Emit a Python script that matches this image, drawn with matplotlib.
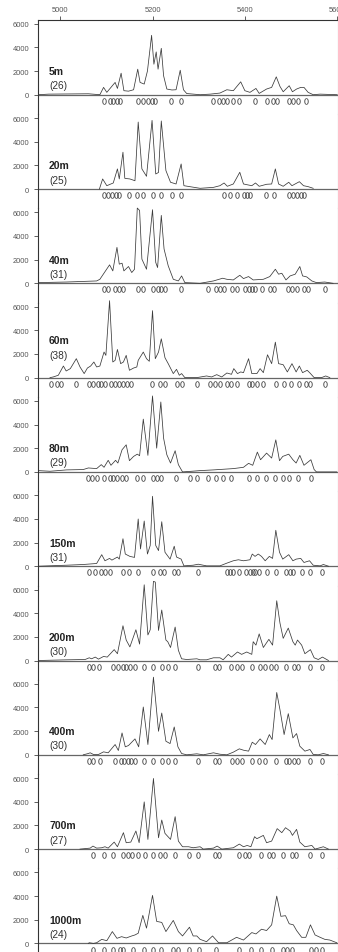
import matplotlib.pyplot as plt

plt.rcParams['font.family'] = ['Liberation Sans', 'DejaVu Sans']

depths = ['5m', '20m', '40m', '60m', '80m', '150m', '200m', '400m', '700m', '1000m']
counts = [26, 25, 31, 38, 29, 31, 30, 30, 27, 24]

# 5m
x_5 = [4953, 4975, 5061, 5086, 5094, 5101, 5119, 5124, 5132, 5138, 5148, 5159, 5168, 5173, 5182, 5189,
       5198, 5203, 5208, 5212, 5219, 5224, 5231, 5242, 5251, 5260, 5267, 5274, 5303, 5325, 5346, 5361,
       5375, 5391, 5400, 5411, 5424, 5431, 5447, 5458, 5468, 5476, 5483, 5496, 5503, 5512, 5521, 5528,
       5537, 5548, 5563, 5600]
y_5 = [0, 50, 80, 0, 620, 200, 1040, 530, 1820, 340, 300, 420, 2160, 1040, 900, 2000,
       5020, 2580, 3620, 2160, 3920, 1600, 480, 400, 420, 2070, 420, 100, 0, 50, 140, 420,
       340, 1090, 340, 200, 530, 110, 480, 620, 1510, 700, 250, 760, 250, 480, 620, 620,
       200, 0, 50, 0]
pk_5 = [5096, 5108, 5115, 5123, 5130, 5169, 5179, 5190, 5198, 5206, 5239, 5261, 5330, 5343, 5352,
        5361, 5375, 5388, 5423, 5447, 5460, 5469, 5496, 5505, 5514, 5532]

# 20m
x_20 = [5085, 5092, 5101, 5115, 5124, 5128, 5136, 5140, 5151, 5162, 5169, 5177, 5187, 5199, 5207,
        5213, 5219, 5229, 5239, 5251, 5262, 5268, 5303, 5332, 5346, 5355, 5362, 5375, 5389, 5397,
        5415, 5423, 5431, 5447, 5458, 5466, 5473, 5483, 5495, 5502, 5518, 5527, 5537, 5548]
y_20 = [0, 850, 280, 510, 1700, 850, 3110, 900, 850, 700, 5660, 1700, 1075, 5800, 1270,
        1400, 5750, 1560, 570, 425, 2120, 280, 60, 140, 280, 510, 230, 425, 1415, 425,
        280, 510, 230, 400, 425, 1700, 425, 230, 570, 280, 620, 280, 200, 60]
pk_20 = [5096, 5104, 5112, 5120, 5128, 5148, 5167, 5179, 5200, 5218, 5242, 5262, 5355, 5368, 5382,
         5399, 5405, 5412, 5445, 5464, 5495, 5504, 5512, 5521, 5529]

# 40m
x_40 = [4953, 5014, 5079, 5086, 5107, 5114, 5123, 5128, 5134, 5138, 5148, 5155, 5161, 5167, 5172,
        5177, 5187, 5200, 5207, 5211, 5219, 5225, 5234, 5245, 5256, 5263, 5270, 5303, 5332, 5352,
        5361, 5375, 5389, 5397, 5408, 5418, 5440, 5454, 5466, 5473, 5480, 5489, 5498, 5509, 5519,
        5525, 5534, 5545, 5555, 5573, 5591]
y_40 = [60, 110, 200, 340, 1560, 1050, 3040, 1620, 1700, 1050, 1420, 910, 1190, 6360, 6160,
        2045, 1190, 6220, 1760, 1330, 5740, 2900, 1480, 340, 200, 625, 60, 0, 200, 430,
        340, 285, 680, 400, 570, 285, 340, 570, 1190, 770, 850, 285, 625, 770, 1420,
        625, 540, 200, 60, 110, 0]
pk_40 = [5096, 5104, 5119, 5128, 5137, 5168, 5179, 5200, 5211, 5218, 5227, 5262, 5321, 5338, 5346,
         5355, 5373, 5382, 5400, 5408, 5415, 5422, 5438, 5454, 5463, 5494, 5503, 5512, 5528, 5537, 5573]

# 60m
x_60 = [4978, 4985, 4996, 5007, 5013, 5022, 5035, 5043, 5052, 5059, 5066, 5073, 5079, 5086, 5095,
        5099, 5107, 5114, 5119, 5124, 5131, 5137, 5143, 5150, 5159, 5166, 5169, 5180, 5187, 5193,
        5200, 5206, 5213, 5219, 5227, 5234, 5245, 5252, 5258, 5263, 5270, 5296, 5317, 5328, 5339,
        5350, 5361, 5371, 5376, 5384, 5391, 5397, 5408, 5415, 5426, 5433, 5440, 5449, 5458, 5466,
        5473, 5483, 5492, 5502, 5511, 5518, 5525, 5535, 5541, 5550, 5566, 5575, 5584]
y_60 = [0, 56, 200, 980, 560, 760, 1600, 900, 340, 810, 980, 1320, 900, 980, 2160,
        1880, 6500, 1320, 1460, 2380, 1180, 1320, 1880, 620, 810, 900, 1460, 2160, 1600, 1380,
        5660, 1600, 2160, 3280, 1680, 1180, 340, 700, 200, 340, 0, 0, 140, 56, 250,
        56, 390, 280, 760, 340, 480, 420, 1600, 340, 340, 760, 420, 1930, 1180, 3000,
        1180, 1090, 480, 1180, 480, 980, 420, 620, 390, 0, 0, 140, 0]
pk_60 = [4980, 4994, 5002, 5035, 5063, 5072, 5081, 5089, 5098, 5110, 5118, 5127, 5136, 5144, 5153,
         5199, 5216, 5226, 5254, 5264, 5297, 5325, 5335, 5346, 5361, 5371, 5382, 5408, 5416, 5426,
         5440, 5467, 5485, 5499, 5518, 5532, 5541, 5573]

# 80m
x_80 = [4953, 4978, 5014, 5050, 5061, 5079, 5089, 5095, 5104, 5110, 5120, 5125, 5134, 5143, 5150,
        5159, 5167, 5172, 5180, 5190, 5200, 5209, 5218, 5224, 5231, 5239, 5249, 5256, 5265, 5285,
        5303, 5332, 5375, 5397, 5408, 5417, 5427, 5434, 5447, 5458, 5467, 5475, 5482, 5495, 5504,
        5511, 5519, 5528, 5543, 5550, 5555, 5599]
y_80 = [110, 56, 170, 200, 335, 280, 615, 390, 980, 560, 980, 750, 1870, 2290, 950,
        1310, 1500, 1370, 4460, 1400, 6420, 2010, 5910, 2850, 1450, 750, 1790, 615, 0, 56,
        110, 170, 280, 390, 725, 560, 1675, 1030, 1590, 1170, 2710, 950, 1310, 1500, 1030,
        750, 1400, 560, 1030, 200, 0, 0]
pk_80 = [5061, 5070, 5079, 5095, 5107, 5115, 5124, 5133, 5143, 5166, 5180, 5200, 5209, 5218, 5250,
         5281, 5296, 5320, 5338, 5353, 5370, 5408, 5426, 5445, 5466, 5482, 5496, 5516, 5543]

# 150m
x_150 = [4953, 5014, 5050, 5079, 5090, 5097, 5107, 5112, 5124, 5128, 5136, 5141, 5151, 5161, 5169,
         5174, 5182, 5189, 5195, 5200, 5207, 5213, 5220, 5227, 5238, 5247, 5252, 5262, 5268, 5288,
         5299, 5317, 5346, 5361, 5375, 5386, 5397, 5411, 5416, 5422, 5429, 5436, 5444, 5453, 5460,
         5467, 5475, 5482, 5495, 5504, 5511, 5521, 5528, 5540, 5548, 5563, 5570, 5581]
y_150 = [0, 85, 145, 230, 975, 460, 660, 515, 775, 600, 2325, 1030, 830, 745, 3990,
         1460, 3820, 1030, 1750, 5910, 1750, 1320, 3760, 1180, 600, 1690, 775, 600, 30, 85,
         170, 30, 30, 260, 460, 545, 460, 545, 1030, 830, 1030, 830, 460, 830, 660,
         3040, 1180, 600, 975, 460, 600, 660, 315, 460, 85, 30, 145, 0]
pk_150 = [5063, 5076, 5088, 5097, 5107, 5137, 5148, 5168, 5200, 5216, 5225, 5247, 5256, 5299, 5361,
          5368, 5375, 5387, 5402, 5411, 5417, 5423, 5430, 5447, 5467, 5490, 5498, 5505, 5523, 5542, 5566]

# 200m
x_200 = [4953, 5014, 5054, 5063, 5068, 5076, 5083, 5094, 5102, 5117, 5124, 5136, 5143, 5151, 5164,
         5172, 5182, 5190, 5195, 5202, 5206, 5213, 5220, 5229, 5233, 5239, 5249, 5256, 5263, 5274,
         5296, 5303, 5317, 5332, 5346, 5353, 5364, 5371, 5384, 5393, 5404, 5415, 5418, 5424, 5431,
         5440, 5452, 5460, 5469, 5476, 5483, 5494, 5504, 5509, 5514, 5523, 5530, 5542, 5550, 5559,
         5568, 5581]
y_200 = [0, 58, 85, 230, 145, 290, 115, 345, 290, 920, 575, 2940, 1730, 1150, 2600,
         1385, 6400, 2160, 2600, 6690, 6630, 2540, 4270, 1730, 1590, 1100, 2830, 865, 145, 85,
         145, 60, 60, 230, 230, 60, 520, 290, 720, 520, 720, 520, 1590, 1300, 2250,
         1100, 1790, 1300, 5050, 3170, 1875, 2740, 1590, 1300, 1730, 1300, 575, 920, 230, 85,
         290, 0]
pk_200 = [5063, 5072, 5084, 5115, 5126, 5135, 5143, 5151, 5162, 5182, 5202, 5220, 5234, 5249, 5299,
          5335, 5344, 5371, 5384, 5393, 5416, 5433, 5444, 5456, 5467, 5488, 5506, 5516, 5542, 5566]

# 400m
x_400 = [5050, 5061, 5065, 5072, 5083, 5094, 5104, 5119, 5126, 5134, 5141, 5148, 5162, 5170, 5180,
         5190, 5202, 5213, 5220, 5229, 5238, 5247, 5255, 5263, 5274, 5296, 5310, 5332, 5346, 5361,
         5375, 5388, 5397, 5408, 5416, 5423, 5433, 5444, 5453, 5459, 5469, 5476, 5485, 5494, 5504,
         5512, 5519, 5530, 5541, 5548, 5559, 5570, 5581]
y_400 = [0, 110, 170, 30, 30, 250, 170, 870, 365, 1850, 675, 785, 1345, 675, 4040,
         870, 6560, 1990, 3535, 1150, 950, 2355, 675, 110, 0, 85, 0, 170, 50, 0,
         225, 505, 390, 310, 1065, 870, 1345, 870, 1710, 1290, 5270, 3815, 1710, 3480, 1430,
         1795, 730, 310, 450, 30, 0, 110, 0]
pk_400 = [5063, 5072, 5086, 5119, 5131, 5138, 5146, 5153, 5162, 5182, 5202, 5220, 5234, 5249, 5299,
          5335, 5344, 5373, 5384, 5393, 5415, 5431, 5444, 5467, 5488, 5495, 5506, 5516, 5542, 5566]

# 700m
x_700 = [5043, 5065, 5071, 5079, 5090, 5097, 5104, 5117, 5124, 5137, 5143, 5153, 5164, 5171, 5182,
         5190, 5202, 5213, 5220, 5227, 5239, 5249, 5256, 5265, 5278, 5288, 5303, 5310, 5332, 5340,
         5350, 5375, 5388, 5397, 5405, 5413, 5421, 5426, 5440, 5447, 5458, 5470, 5480, 5488, 5498,
         5503, 5512, 5519, 5530, 5545, 5552, 5570, 5581]
y_700 = [0, 85, 255, 85, 115, 200, 85, 595, 200, 1390, 540, 595, 1530, 540, 3990,
         820, 5970, 960, 2460, 1330, 820, 2745, 680, 200, 200, 115, 200, 0, 85, 255,
         0, 115, 425, 200, 310, 200, 1050, 880, 1160, 540, 680, 1730, 1390, 1810, 1530,
         1160, 1670, 595, 200, 310, 0, 200, 0]
pk_700 = [5072, 5095, 5115, 5136, 5146, 5155, 5168, 5184, 5200, 5216, 5226, 5249, 5278, 5299, 5335,
          5344, 5388, 5400, 5410, 5436, 5453, 5462, 5483, 5501, 5511, 5542, 5566]

# 1000m
x_1000 = [5061, 5063, 5072, 5079, 5090, 5101, 5113, 5123, 5133, 5143, 5155, 5162, 5169, 5179, 5187,
          5200, 5209, 5220, 5229, 5245, 5256, 5265, 5280, 5288, 5296, 5303, 5317, 5330, 5343, 5361,
          5382, 5397, 5415, 5424, 5436, 5447, 5458, 5469, 5478, 5488, 5496, 5505, 5512, 5523, 5532,
          5542, 5552, 5563, 5573, 5584, 5599]
y_1000 = [0, 57, 0, 57, 345, 230, 1000, 430, 570, 460, 630, 715, 860, 2370, 1290,
          4060, 1860, 1775, 1000, 1945, 1000, 630, 1370, 630, 630, 345, 145, 630, 57, 57,
          515, 285, 915, 800, 1200, 1090, 1570, 4000, 2290, 2345, 1660, 1570, 1090, 515, 515,
          1570, 715, 515, 345, 285, 57]
pk_1000 = [5072, 5095, 5115, 5130, 5136, 5157, 5182, 5200, 5218, 5245, 5256, 5279, 5301, 5338, 5388,
           5413, 5436, 5458, 5483, 5492, 5501, 5543, 5555, 5568]

curves = [(x_5, y_5, pk_5), (x_20, y_20, pk_20), (x_40, y_40, pk_40), (x_60, y_60, pk_60),
          (x_80, y_80, pk_80), (x_150, y_150, pk_150), (x_200, y_200, pk_200),
          (x_400, y_400, pk_400), (x_700, y_700, pk_700), (x_1000, y_1000, pk_1000)]

# label heights (data units) in each panel
name_y = [2000, 2000, 2000, 3200, 2000, 2000, 2000, 2000, 2000, 2000]
count_y = [800, 800, 800, 1950, 800, 800, 800, 800, 800, 800]

W, H = 338, 953
fig = plt.figure(figsize=(W / 100, H / 100), dpi=100)
top0, step = 20.7, 94.3

for i, (xs, ys, pks) in enumerate(curves):
    top = top0 + i * step
    ax = fig.add_axes([38 / W, 1 - (top + step) / H, 299.5 / W, step / H])
    ax.patch.set_visible(False)
    ax.set_xlim(4952, 5600.6)
    ax.set_ylim(-1630, 6340)
    ax.axhline(0, color='#666666', lw=0.9)
    ax.plot(xs, ys, color='#3a3a3a', lw=0.55, clip_on=False)
    ax.plot(pks, [-520] * len(pks), ls='none', marker='$0$', ms=4.6, color='#333333', mew=0)
    ax.text(4976, name_y[i], depths[i], fontweight='bold', fontsize=7.5, va='center', color='#222222')
    ax.text(4976, count_y[i], '(%d)' % counts[i], fontsize=7.3, va='center', color='#333333')

    for s in ['bottom', 'top']:
        ax.spines[s].set_visible(False)
    ax.spines['left'].set_color('#333333')
    ax.spines['left'].set_linewidth(0.8)
    ax.spines['right'].set_color('#999999')
    ax.spines['right'].set_linewidth(0.8)

    ax.set_yticks([0, 2000, 4000, 6000])
    ax.tick_params(axis='y', length=3, width=0.6, pad=3.5, labelsize=5.4,
                   labelcolor='#555555', color='#444444')
    if i == 0:
        ax.spines['top'].set_visible(True)
        ax.spines['top'].set_color('#333333')
        ax.spines['top'].set_linewidth(0.8)
        ax.xaxis.tick_top()
        ax.set_xticks([5000, 5200, 5400, 5600])
        ax.tick_params(axis='x', length=3, width=0.6, pad=1.5, labelsize=5.4,
                       labelcolor='#555555', color='#444444')
    else:
        ax.set_xticks([])

fig.savefig('out.png', dpi=100)
